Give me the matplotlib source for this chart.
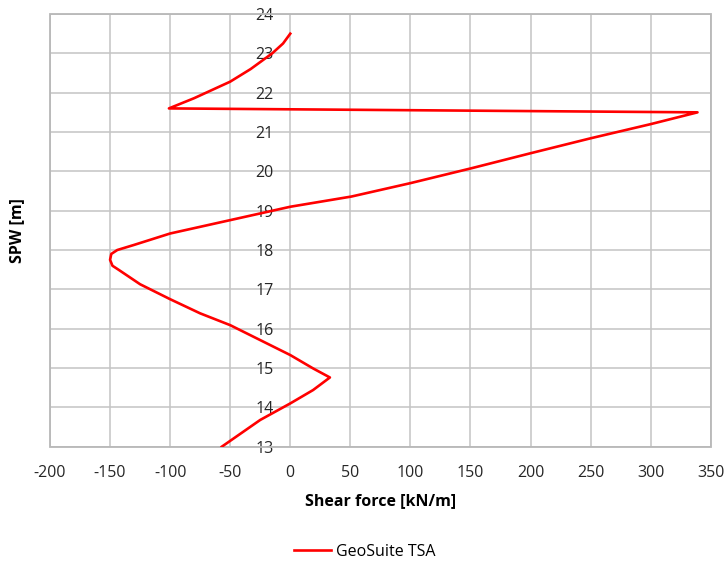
import matplotlib
matplotlib.use("Agg")
import matplotlib.pyplot as plt
from matplotlib.patches import Rectangle

plt.rcParams['font.family'] = ['Open Sans', 'DejaVu Sans']
plt.rcParams['axes.unicode_minus'] = False

# Shear force along the sheet pile wall (GeoSuite TSA)
shear_force = [0, -6, -15, -33, -50, -80, -101,
               339, 300, 250, 200, 151, 100, 51, 0,
               -50, -100, -130, -144, -149, -150, -148, -143, -125, -100,
               -75, -50, -25, 0, 19, 33, 19, 0, -25, -57]
spw_level = [23.5, 23.25, 23.0, 22.6, 22.28, 21.86, 21.6,
             21.5, 21.2, 20.84, 20.46, 20.08, 19.7, 19.36, 19.1,
             18.76, 18.42, 18.13, 18.0, 17.9, 17.75, 17.6, 17.5, 17.13, 16.75,
             16.39, 16.09, 15.71, 15.33, 14.99, 14.76, 14.44, 14.1, 13.68, 13.0]

x_ticks = list(range(-200, 351, 50))
y_ticks = list(range(13, 25))
series_name = "GeoSuite TSA"

fig = plt.figure(figsize=(7.28, 5.63), dpi=100)
ax = fig.add_axes([50 / 728, 1 - 446.7 / 563, (710.7 - 50) / 728, (446.7 - 14) / 563])

ax.plot(shear_force, spw_level, color='#ff0000', lw=1.9, label=series_name,
        solid_joinstyle='round', zorder=3)

ax.set_xlim(-200, 350)
ax.set_ylim(13, 24)
ax.set_xticks(x_ticks)
ax.set_yticks(y_ticks)
ax.grid(True, color='#c4c4c4', lw=1.1, zorder=0)
ax.set_axisbelow(True)

# y axis crosses at x = 0
for s in ['top', 'right', 'bottom']:
    ax.spines[s].set_visible(False)
ax.spines['left'].set_position(('data', 0))
ax.spines['left'].set_visible(False)
ax.add_patch(Rectangle((0, 0), 1, 1, transform=ax.transAxes, fill=False,
                       edgecolor='#b8b8b8', lw=1.3, zorder=1, clip_on=False))

ax.tick_params(axis='both', length=0, labelsize=11.5, labelcolor='#262626')
ax.tick_params(axis='x', pad=13)
ax.tick_params(axis='y', pad=12)

ax.set_xlabel("Shear force [kN/m]", fontsize=11.5, fontweight='bold', labelpad=9)
ax.set_ylabel("SPW [m]", fontsize=11.5, fontweight='bold')
ax.yaxis.set_label_coords(25 / 728, 1 - 231 / 563, transform=fig.transFigure)

fig.legend(loc='center', bbox_to_anchor=(365 / 728, 1 - 551.5 / 563), frameon=False,
           fontsize=11.5, handlelength=2.3, handletextpad=0.3)

fig.savefig("out.png", dpi=100)
